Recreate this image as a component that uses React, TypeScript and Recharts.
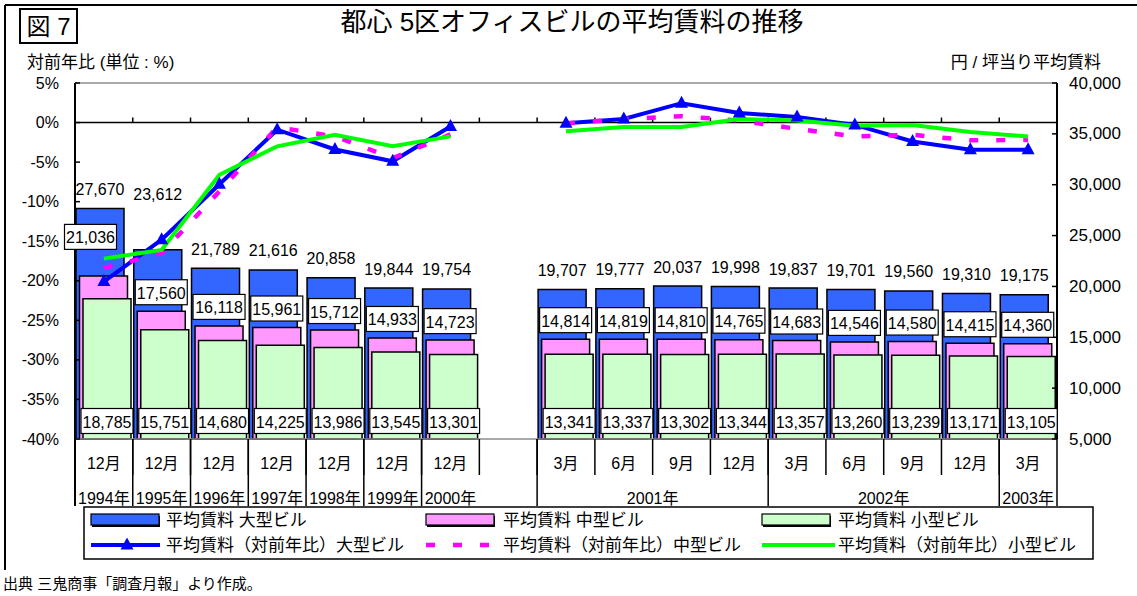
import React from 'react';
import {
  ComposedChart,
  Bar,
  Line,
  XAxis,
  YAxis,
  ReferenceLine,
  LabelList,
} from 'recharts';

// categories (the empty slot is the gap between 2000 and 2001)
const months = ['12月', '12月', '12月', '12月', '12月', '12月', '12月', '', '3月', '6月', '9月', '12月', '3月', '6月', '9月', '12月', '3月'];
const years = ['1994年', '1995年', '1996年', '1997年', '1998年', '1999年', '2000年', '', '2001年', '2001年', '2001年', '2001年', '2002年', '2002年', '2002年', '2002年', '2003年'];

// 円/坪
const rentLarge = [27670, 23612, 21789, 21616, 20858, 19844, 19754, null, 19707, 19777, 20037, 19998, 19837, 19701, 19560, 19310, 19175];
const rentMid = [21036, 17560, 16118, 15961, 15712, 14933, 14723, null, 14814, 14819, 14810, 14765, 14683, 14546, 14580, 14415, 14360];
const rentSmall = [18785, 15751, 14680, 14225, 13986, 13545, 13301, null, 13341, 13337, 13302, 13344, 13357, 13260, 13239, 13171, 13105];

// 対前年比 %
const yoyLarge = [-20.1, -14.8, -7.8, -0.9, -3.4, -4.9, -0.5, null, -0.1, 0.45, 2.45, 1.2, 0.7, -0.3, -2.4, -3.45, -3.45];
const yoyMid = [-18.4, -16.5, -8.7, -0.6, -1.75, -4.5, -1.5, null, -0.1, 0.45, 0.8, 0.25, -0.8, -1.75, -1.55, -2.25, -2.2];
const yoySmall = [-17.2, -16.1, -6.6, -3.0, -1.55, -3.0, -1.75, null, -1.1, -0.55, -0.55, 0.45, 0.25, -0.4, -0.3, -1.2, -1.75];

const pctTicks = [5, 0, -5, -10, -15, -20, -25, -30, -35, -40];
const yenTicks = [40000, 35000, 30000, 25000, 20000, 15000, 10000, 5000];

const data = months.map((m, i) => ({
  idx: i,
  large: rentLarge[i],
  mid: rentMid[i],
  small: rentSmall[i],
  yoyLarge: yoyLarge[i],
  yoyMid: yoyMid[i],
  yoySmall: yoySmall[i],
}));

const FONT = '"Liberation Sans", "Noto Sans CJK JP", sans-serif';
const fmt = (v: number) => v.toLocaleString('en-US');

const BLUE_BAR = '#3366ff';
const PINK_BAR = '#ff99ff';
const GREEN_BAR = '#ccffcc';

function PctTick(props: any) {
  const { x, y, payload } = props;
  return (
    <g>
      <text x={x} y={y} textAnchor="end" dominantBaseline="central" fontSize={16} fill="#000" fontFamily={FONT}>
        {payload.value}%
      </text>
      <line x1={x + 16} x2={x + 21} y1={y} y2={y} stroke="#000" strokeWidth={1.5} />
    </g>
  );
}

function YenTick(props: any) {
  const { x, y, payload } = props;
  return (
    <g>
      <text x={x} y={y} textAnchor="start" dominantBaseline="central" fontSize={17} fill="#000" fontFamily={FONT}>
        {fmt(payload.value)}
      </text>
      <line x1={x - 12} x2={x - 17} y1={y} y2={y} stroke="#000" strokeWidth={1.5} />
    </g>
  );
}

function PeriodTick(props: any) {
  const { x, y, payload, width } = props;
  const i = Number(payload.value);
  const n = months.length;
  const band = (typeof width === 'number' && width > 0 ? width : 982) / n;
  const left = x - band / 2;
  const right = x + band / 2;
  const els: React.ReactNode[] = [];
  if (months[i]) {
    els.push(
      <text key="m" x={x} y={y + 24} textAnchor="middle" dominantBaseline="central" fontSize={16} fill="#000" fontFamily={FONT}>
        {months[i]}
      </text>
    );
  }
  if (i > 0) {
    els.push(<line key="ms" x1={left} x2={left} y1={y} y2={y + 36} stroke="#000" strokeWidth={1.5} />);
  }
  const yearStart = years[i] !== '' && (i === 0 || years[i] !== years[i - 1]);
  if (yearStart) {
    let span = 1;
    while (i + span < n && years[i + span] === years[i]) span++;
    els.push(<line key="ys" x1={left} x2={left} y1={y} y2={y + 67} stroke="#000" strokeWidth={i === 0 ? 2 : 1.5} />);
    els.push(
      <text key="y" x={left + (span * band) / 2} y={y + 59} textAnchor="middle" dominantBaseline="central" fontSize={16} fill="#000" fontFamily={FONT}>
        {years[i]}
      </text>
    );
  }
  if (i === n - 1) {
    els.push(<line key="re" x1={right} x2={right} y1={y} y2={y + 67} stroke="#000" strokeWidth={1.5} />);
  }
  return <g>{els}</g>;
}

// 0% line with the category ticks pointing up
function ZeroAxis(props: any) {
  const { x1, y1, x2 } = props;
  const band = (x2 - x1) / months.length;
  return (
    <g>
      <line x1={x1} x2={x2} y1={y1} y2={y1} stroke="#000" strokeWidth={1.5} />
      {months.map((_, i) =>
        i > 0 ? (
          <line key={i} x1={x1 + band * i} x2={x1 + band * i} y1={y1} y2={y1 - 5} stroke="#000" strokeWidth={1.5} />
        ) : null
      )}
    </g>
  );
}

function ValueBox({ cx, cy, value }: { cx: number; cy: number; value: number }) {
  return (
    <g>
      <rect x={cx - 26} y={cy - 12.5} width={52} height={25} fill="#fff" stroke="#000" strokeWidth={1.2} />
      <text x={cx} y={cy + 1} textAnchor="middle" dominantBaseline="central" fontSize={16} fill="#000" fontFamily={FONT}>
        {fmt(value)}
      </text>
    </g>
  );
}

function LargeLabel(props: any) {
  const { x, y, width, value, index } = props;
  if (value == null) return null;
  const lift = index === 1 ? 36 : 0;
  return (
    <text x={x + width / 2} y={y - 19 - lift} textAnchor="middle" dominantBaseline="central" fontSize={16} fill="#000" fontFamily={FONT}>
      {fmt(value)}
    </text>
  );
}

function MidLabel(props: any) {
  const { x, y, width, value, index } = props;
  if (value == null) return null;
  const dx = index === 0 ? -13 : 0;
  const dy = index === 0 ? -20 : 0;
  return <ValueBox cx={x + width / 2 + dx} cy={y - 19 + dy} value={value} />;
}

function SmallLabel(props: any) {
  const { x, y, width, height, value } = props;
  if (value == null) return null;
  return <ValueBox cx={x + width / 2} cy={y + height - 18} value={value} />;
}

function Triangle(props: any) {
  const { cx, cy, index } = props;
  if (cx == null || cy == null || Number.isNaN(cy)) return <g key={index} />;
  return <polygon key={index} points={`${cx},${cy - 7.5} ${cx - 6.5},${cy + 4.5} ${cx + 6.5},${cy + 4.5}`} fill="#0000ff" />;
}

function LegendSwatch({ x, y, color }: { x: number; y: number; color: string }) {
  return (
    <g>
      <rect x={x + 1} y={y - 4} width={68} height={11} fill="#000" />
      <rect x={x} y={y - 6} width={68} height={11} fill={color} stroke="#000" strokeWidth={1.2} />
    </g>
  );
}

const legendText = (x: number, y: number, s: string) => (
  <text x={x} y={y} dominantBaseline="central" fontSize={17} fill="#000" fontFamily={FONT}>
    {s}
  </text>
);

export default function App() {
  return (
    <div style={{ position: 'absolute', left: 0, top: 0, width: 1137, height: 596, background: '#fff', fontFamily: FONT }}>
      <ComposedChart
        width={1137}
        height={596}
        data={data}
        margin={{ top: 83, right: 8, bottom: 90, left: 8 }}
        barSize={48}
        barGap={-44.5}
      >
        <XAxis
          dataKey="idx"
          type="category"
          height={67}
          interval={0}
          tickLine={false}
          tickSize={0}
          tickMargin={0}
          axisLine={{ stroke: '#8c8c8c', strokeWidth: 1.5 }}
          tick={<PeriodTick />}
        />
        <YAxis
          yAxisId="pct"
          orientation="left"
          domain={[-40, 5]}
          ticks={pctTicks}
          interval={0}
          width={67}
          tickLine={false}
          tickSize={0}
          tickMargin={16}
          axisLine={{ stroke: '#000', strokeWidth: 2 }}
          tick={<PctTick />}
        />
        <YAxis
          yAxisId="yen"
          orientation="right"
          domain={[5000, 40000]}
          ticks={yenTicks}
          interval={0}
          width={72}
          tickLine={false}
          tickSize={0}
          tickMargin={12}
          axisLine={{ stroke: '#000', strokeWidth: 2 }}
          tick={<YenTick />}
        />
        <ReferenceLine yAxisId="pct" y={5} stroke="#8c8c8c" strokeWidth={1.5} />
        <Bar yAxisId="yen" dataKey="large" fill={BLUE_BAR} stroke="#000" strokeWidth={1.5} isAnimationActive={false}>
          <LabelList dataKey="large" content={<LargeLabel />} />
        </Bar>
        <Bar yAxisId="yen" dataKey="mid" fill={PINK_BAR} stroke="#000" strokeWidth={1.5} isAnimationActive={false}>
          <LabelList dataKey="mid" content={<MidLabel />} />
        </Bar>
        <Bar yAxisId="yen" dataKey="small" fill={GREEN_BAR} stroke="#000" strokeWidth={1.5} isAnimationActive={false}>
          <LabelList dataKey="small" content={<SmallLabel />} />
        </Bar>
        <ReferenceLine yAxisId="pct" y={0} shape={ZeroAxis} />
        <Line
          yAxisId="pct"
          dataKey="yoyLarge"
          stroke="#0000ff"
          strokeWidth={4}
          dot={Triangle}
          activeDot={false}
          isAnimationActive={false}
        />
        <Line
          yAxisId="pct"
          dataKey="yoyMid"
          stroke="#ff00ff"
          strokeWidth={4.5}
          strokeDasharray="9 18"
          dot={false}
          activeDot={false}
          isAnimationActive={false}
        />
        <Line
          yAxisId="pct"
          dataKey="yoySmall"
          stroke="#00ff00"
          strokeWidth={4}
          dot={false}
          activeDot={false}
          isAnimationActive={false}
        />
      </ComposedChart>

      <svg width={1137} height={596} style={{ position: 'absolute', left: 0, top: 0, pointerEvents: 'none' }}>
        <line x1={5} y1={5} x2={1137} y2={5} stroke="#000" strokeWidth={2} />
        <line x1={5} y1={5} x2={5} y2={570} stroke="#000" strokeWidth={2} />

        <rect x={20} y={9} width={57} height={34} fill="#fff" stroke="#000" strokeWidth={2} />
        <text x={48.5} y={26.5} textAnchor="middle" dominantBaseline="central" fontSize={24} fill="#000" fontFamily={FONT}>図 7</text>

        <text x={572} y={22} textAnchor="middle" dominantBaseline="central" fontSize={26} fill="#000" fontFamily={FONT}>
          都心 5区オフィスビルの平均賃料の推移
        </text>
        <text x={27} y={62} dominantBaseline="central" fontSize={17} fill="#000" fontFamily={FONT}>対前年比 (単位 : %)</text>
        <text x={1101} y={62} textAnchor="end" dominantBaseline="central" fontSize={17} fill="#000" fontFamily={FONT}>円 / 坪当り平均賃料</text>

        <rect x={84} y={507} width={1009} height={52} fill="#fff" stroke="#000" strokeWidth={1.5} />
        <LegendSwatch x={91} y={520} color={BLUE_BAR} />
        {legendText(166, 520, '平均賃料 大型ビル')}
        <LegendSwatch x={426} y={520} color={PINK_BAR} />
        {legendText(503, 520, '平均賃料 中型ビル')}
        <LegendSwatch x={762} y={520} color={GREEN_BAR} />
        {legendText(838, 520, '平均賃料 小型ビル')}

        <line x1={91} x2={160} y1={545} y2={545} stroke="#0000ff" strokeWidth={4} />
        <polygon points="127,537.5 120.5,549.5 133.5,549.5" fill="#0000ff" />
        {legendText(166, 545, '平均賃料（対前年比）大型ビル')}
        <line x1={426} x2={497} y1={545} y2={545} stroke="#ff00ff" strokeWidth={4.5} strokeDasharray="9 18" />
        {legendText(503, 545, '平均賃料（対前年比）中型ビル')}
        <line x1={762} x2={835} y1={545} y2={545} stroke="#00ff00" strokeWidth={4} />
        {legendText(838, 545, '平均賃料（対前年比）小型ビル')}

        <text x={3} y={583} dominantBaseline="central" fontSize={15} fill="#000" fontFamily={FONT}>
          出典 三鬼商事「調査月報」より作成。
        </text>
      </svg>
    </div>
  );
}
